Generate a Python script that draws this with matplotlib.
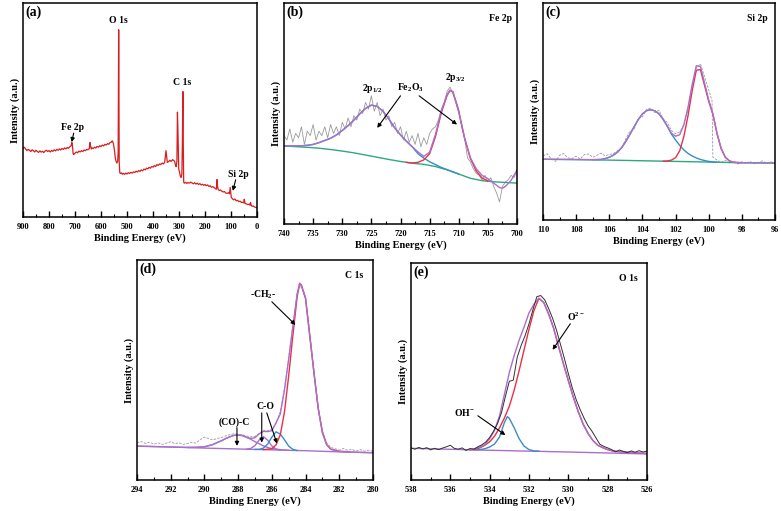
import matplotlib
matplotlib.use("Agg")
import matplotlib.pyplot as plt
from matplotlib.ticker import MultipleLocator

plt.rcParams['font.family'] = ['Liberation Serif', 'DejaVu Serif']
plt.rcParams['font.weight'] = 'bold'
plt.rcParams['mathtext.fontset'] = 'custom'
plt.rcParams['mathtext.rm'] = 'Liberation Serif:bold'
plt.rcParams['mathtext.it'] = 'Liberation Serif:bold'
plt.rcParams['mathtext.bf'] = 'Liberation Serif:bold'

# ---------------- (a) survey ----------------
be_a = [900, 895, 890, 885, 880, 875, 870, 865, 860, 855, 850, 845, 840, 835, 830, 825, 820, 815, 810, 805,
        800, 795, 790, 785, 780, 775, 770, 765, 760, 755, 750, 745, 740, 735, 730, 725, 720, 715, 712, 710,
        707, 705, 700, 695, 690, 685, 680, 675, 670, 665, 660, 655, 650, 645, 642, 640, 637, 635, 630, 625,
        620, 615, 610, 605, 600, 595, 590, 585, 580, 575, 570, 565, 560, 557, 555, 552, 548, 545, 542, 539,
        536, 534, 532, 531, 530, 528, 526, 522, 518, 514, 510, 505, 500, 495, 490, 485, 480, 475, 470, 465,
        460, 455, 450, 445, 440, 435, 430, 425, 420, 415, 410, 405, 400, 395, 390, 385, 380, 375, 370, 365,
        360, 355, 352, 350, 347, 345, 340, 335, 330, 325, 320, 317, 314, 311, 308, 306, 304, 301, 298, 295,
        292, 289, 287, 285, 284, 282, 280, 275, 270, 265, 260, 255, 250, 245, 240, 235, 230, 225, 220, 215,
        210, 205, 200, 195, 190, 185, 180, 175, 170, 165, 160, 156, 154, 152, 149, 145, 140, 135, 130, 125,
        120, 115, 110, 106, 103, 101, 99, 95, 90, 85, 80, 75, 70, 65, 60, 55, 51, 49, 46, 40,
        35, 30, 27, 25, 22, 18, 15, 10, 5, 0]
int_a = [32.1, 32.6, 31.8, 31.0, 31.6, 31.2, 30.6, 31.4, 31.0, 30.4, 31.2, 30.6, 30.2, 30.9, 30.3, 30.7, 30.1, 30.8, 31.2, 30.6,
         31.0, 30.4, 31.1, 30.7, 31.4, 30.9, 31.6, 31.2, 31.8, 31.3, 32.0, 31.6, 32.3, 31.8, 32.5, 32.1, 32.8, 33.3, 34.8, 33.5,
         29.5, 29.2, 29.8, 30.4, 30.0, 30.8, 30.4, 31.0, 30.6, 31.3, 31.0, 31.6, 31.4, 32.0, 34.8, 33.0, 31.8, 32.3, 32.0, 32.6,
         32.2, 33.0, 32.6, 33.3, 32.9, 33.6, 33.2, 34.0, 33.6, 34.3, 34.0, 34.8, 35.0, 35.6, 35.2, 34.0, 31.0, 27.5, 26.0, 25.2,
         26.0, 30.0, 87.5, 60.0, 26.0, 21.0, 20.3, 20.6, 20.0, 20.4, 19.9, 20.5, 20.1, 20.7, 20.3, 20.9, 20.5, 21.1, 20.8, 21.4,
         21.0, 21.7, 21.3, 22.0, 21.6, 22.4, 22.0, 22.8, 22.5, 23.2, 22.8, 23.6, 23.3, 24.0, 23.6, 24.5, 24.1, 24.8, 24.5, 25.2,
         24.8, 25.6, 29.0, 31.0, 27.5, 25.5, 25.9, 26.5, 26.0, 26.8, 26.4, 26.0, 24.5, 23.5, 26.0, 49.0, 40.0, 22.5, 21.0, 19.2,
         18.5, 20.0, 35.0, 58.6, 40.0, 16.5, 15.8, 16.2, 15.7, 16.1, 15.8, 16.3, 15.9, 15.5, 16.0, 15.4, 15.8, 15.2, 15.6, 15.0,
         15.3, 14.8, 15.2, 14.6, 15.0, 14.3, 14.6, 13.9, 14.2, 13.8, 13.2, 13.0, 17.5, 14.5, 12.8, 12.4, 12.6, 12.0, 11.7, 11.9,
         11.2, 11.0, 11.4, 10.8, 13.8, 11.5, 9.2, 8.6, 8.0, 8.4, 7.6, 7.8, 7.2, 7.4, 6.8, 6.9, 6.6, 8.3, 6.3, 6.1,
         5.8, 6.0, 5.5, 6.8, 5.3, 5.0, 5.2, 4.7, 4.5, 4.3]
ticks_a = [900, 800, 700, 600, 500, 400, 300, 200, 100, 0]

# ---------------- (b) Fe 2p ----------------
be_b_raw = [740 - 0.5 * i for i in range(81)]
raw_b = [40, 38, 43, 37, 41, 39, 44, 36, 42, 40,
         45, 38, 42, 40, 44, 39, 45, 41, 44, 40,
         46, 43, 48, 44, 49, 47, 52, 50, 55, 52,
         58, 51, 55, 49, 52, 47, 49, 44, 46, 41,
         44, 38, 42, 37, 40, 36, 41, 35, 39, 36,
         41, 43, 44, 47, 52, 55, 60, 62, 59, 56,
         52, 44, 39, 30, 28, 25, 23, 22, 20, 22,
         19, 21, 17, 14, 10, 17, 19, 20, 22, 21,
         24]
be_b_env = [740, 739, 738, 737, 736, 735, 734, 733, 732, 731, 730, 729, 728, 727, 726, 725, 724, 723, 722, 721,
            720, 719, 718, 717, 716, 715, 714, 713, 712, 711.5, 711, 710, 709, 708, 707, 706, 705, 704, 703,
            702.5, 702, 701, 700]
env_b = [35.3, 35.3, 35.3, 35.4, 35.6, 36.0, 36.8, 37.8, 38.8, 40.3, 42.3, 44.5, 47.0, 49.8, 52.3, 53.8, 53.2, 51.0, 47.5, 43.5,
         40.3, 37.5, 35.0, 32.6, 30.6, 32.5, 40.5, 51.0, 58.5, 60.6, 59.9, 51.0, 39.0, 30.0, 25.0, 22.0, 20.5, 18.5, 16.5,
         16.2, 17.0, 19.8, 24.4]
be_b_p1 = [740, 739, 738, 737, 736, 735, 734, 733, 732, 731, 730, 729, 728, 727, 726, 725, 724, 723, 722, 721,
           720, 719, 718, 717, 716, 715, 714, 713, 712, 711, 710]
p1_b = [35.3, 35.3, 35.3, 35.4, 35.6, 36.0, 36.8, 37.8, 38.8, 40.3, 42.3, 44.5, 47.0, 49.8, 52.3, 53.8, 53.2, 51.0, 47.5, 43.5,
        40.3, 37.5, 35.0, 31.8, 29.8, 28.2, 26.9, 25.6, 24.6, 23.6, 22.6]
be_b_p2 = [719, 718, 717, 716, 715, 714, 713, 712, 711.5, 711, 710, 709, 708, 707, 706, 705]
p2_b = [27.9, 27.6, 27.9, 29.0, 31.8, 39.5, 50.3, 58.2, 60.4, 59.7, 50.8, 38.8, 29.6, 24.0, 20.8, 19.4]
be_b_bg = [740, 738, 736, 734, 732, 730, 728, 726, 724, 722, 720, 718, 716, 714, 712, 710, 708, 706, 704, 702, 700]
bg_b = [35.3, 35.0, 34.7, 34.3, 33.7, 33.0, 32.2, 31.2, 30.2, 29.2, 28.3, 27.5, 27.0, 26.0, 24.5, 22.6, 20.7, 19.6, 19.1, 18.8, 18.5]
ticks_b = [740, 735, 730, 725, 720, 715, 710, 705, 700]

# ---------------- (c) Si 2p ----------------
be_c_raw = [110, 109.75, 109.5, 109.25, 109, 108.75, 108.5, 108.25, 108, 107.75, 107.5, 107.25, 107, 106.75, 106.5,
            106.25, 106, 105.75, 105.5, 105.25, 105, 104.75, 104.5, 104.25, 104, 103.75, 103.5, 103.25, 103, 102.75,
            102.5, 102.25, 102, 101.75, 101.5, 101.25, 101, 100.75, 100.5, 100.25, 100, 99.8, 99.75, 99.5, 99.25,
            99, 98.75, 98.5, 98.25, 98, 97.75, 97.5, 97.25, 97, 96.75, 96.5, 96.25, 96]
raw_c = [29.5, 30.5, 28.2, 27.0, 29.8, 30.6, 28.6, 28.3, 29.4, 28.1, 30.2, 30.4, 28.9, 29.8, 30.8,
         29.5, 30.2, 30.6, 32.0, 33.0, 37.5, 41.0, 42.0, 46.8, 47.5, 51.0, 51.6, 49.5, 50.6, 46.5,
         45.0, 41.2, 39.8, 40.6, 43.5, 51.0, 62.0, 70.0, 72.0, 66.0, 60.0, 55.0, 29.0, 27.6, 26.5,
         27.6, 26.2, 27.2, 25.8, 26.9, 26.0, 27.0, 25.9, 26.5, 27.3, 26.0, 26.8, 26.3]
be_c_env = [110, 109, 108, 107, 106.5, 106.25, 106, 105.75, 105.5, 105.25, 105, 104.75, 104.5, 104.25, 104, 103.75,
            103.5, 103.25, 103, 102.75, 102.5, 102.25, 102, 101.75, 101.5, 101.25, 101, 100.75, 100.5, 100.25, 100,
            99.75, 99.5, 99.25, 99, 98.75, 98.5, 98, 97, 96]
env_c = [28.0, 27.95, 27.9, 27.8, 27.9, 28.3, 28.9, 29.9, 31.3, 33.4, 36.2, 39.5, 43.0, 46.3, 48.9, 50.4,
         50.8, 50.3, 48.9, 46.4, 43.2, 40.0, 38.6, 39.3, 43.9, 51.9, 62.3, 71.1, 70.7, 63.1, 55.3,
         49.0, 40.0, 33.0, 29.0, 27.3, 26.6, 26.4, 26.3, 26.2]
be_c_p1 = [107, 106.5, 106.25, 106, 105.75, 105.5, 105.25, 105, 104.75, 104.5, 104.25, 104, 103.75, 103.5, 103.25,
           103, 102.75, 102.5, 102.25, 102, 101.75, 101.5, 101.25, 101, 100.75, 100.5, 100.25, 100, 99.5]
p1_c = [27.8, 27.9, 28.3, 28.9, 29.9, 31.3, 33.4, 36.2, 39.5, 43.0, 46.3, 48.9, 50.4, 50.8, 50.3,
        48.9, 46.4, 43.2, 39.6, 36.9, 34.4, 32.3, 30.7, 29.5, 28.6, 27.9, 27.4, 27.0, 26.6]
be_c_p2 = [102.75, 102.5, 102.25, 102, 101.75, 101.5, 101.25, 101, 100.75, 100.5, 100.25, 100, 99.75, 99.5, 99.25,
           99, 98.75, 98.5, 98]
p2_c = [27.1, 27.2, 27.6, 28.7, 31.9, 38.5, 48.0, 59.5, 69.0, 69.3, 62.0, 54.7, 48.8, 39.8, 32.9,
        28.9, 27.2, 26.5, 26.4]
be_c_bg = [110, 108, 106, 104, 102, 100, 98, 96]
bg_c = [28.0, 27.8, 27.6, 27.3, 27.0, 26.7, 26.4, 26.2]
ticks_c = [110, 108, 106, 104, 102, 100, 98, 96]

# ---------------- (d) C 1s ----------------
be_d_raw = [294 - 0.25 * i for i in range(57)]
raw_d = [16.8, 17.5, 16.6, 17.2, 16.3, 16.9, 16.2, 16.8, 17.4, 16.5,
         16.9, 16.2, 16.6, 17.1, 16.8, 18.4, 19.5, 18.8, 18.2, 18.9,
         19.3, 20.0, 20.6, 21.0, 20.8, 20.6, 20.0, 19.6, 19.8, 21.2,
         22.6, 22.4, 23.0, 26.0, 31.0, 41.5, 55.5, 70.5, 85.0, 89.0,
         83.0, 66.5, 49.5, 33.0, 22.5, 16.8, 14.8, 14.2, 13.6, 14.3,
         13.5, 13.9, 13.2, 13.8, 13.1, 13.6, 13.0]
be_d_env = [294, 292, 291, 290.5, 290, 289.75, 289.5, 289.25, 289, 288.75, 288.5, 288.25, 288, 287.75, 287.5, 287.25,
            287, 286.75, 286.5, 286.25, 286, 285.75, 285.5, 285.25, 285, 284.75, 284.5, 284.35, 284.25, 284, 283.75,
            283.5, 283.25, 283, 282.75, 282.5, 282, 281, 280]
env_d = [15.4, 15.0, 14.8, 14.85, 15.1, 15.6, 16.1, 17.0, 17.8, 18.8, 19.6, 20.3, 20.4, 20.2, 19.4, 18.9,
         19.2, 21.0, 22.1, 22.0, 22.4, 26.0, 30.0, 41.0, 55.0, 70.0, 84.5, 89.4, 88.5, 82.5, 65.5,
         48.6, 32.5, 21.5, 16.1, 14.0, 13.0, 12.6, 12.4]
be_d_ch2 = [286.5, 286, 285.75, 285.5, 285.25, 285, 284.75, 284.5, 284.35, 284.25, 284, 283.75, 283.5, 283.25, 283,
            282.75, 282.5, 282, 281.5]
ch2_d = [13.8, 14.2, 16.0, 20.5, 31.0, 47.5, 66.0, 83.3, 89.4, 88.5, 82.5, 65.5, 48.6, 32.5, 21.5,
         16.1, 14.0, 13.0, 12.9]
be_d_co = [287, 286.75, 286.5, 286.25, 286, 285.75, 285.5, 285.25, 285, 284.75, 284.5]
co_d = [13.9, 13.95, 14.5, 16.3, 19.5, 21.9, 20.9, 18.3, 15.4, 13.9, 13.4]
be_d_co2 = [287.5, 287.25, 287, 286.75, 286.5, 286.25, 286, 285.75, 285.5]
co2_d = [14.01, 14.35, 15.65, 18.25, 19.7, 18.1, 15.45, 14.0, 13.58]
be_d_coc = [291, 290.5, 290, 289.75, 289.5, 289.25, 289, 288.75, 288.5, 288.25, 288, 287.75, 287.5, 287.25, 287,
            286.75, 286.5, 286.25, 286, 285.5, 285]
coc_d = [14.8, 14.85, 15.1, 15.6, 16.1, 17.0, 17.8, 18.8, 19.6, 20.3, 20.4, 20.2, 19.4, 18.5, 17.4,
         16.5, 15.5, 14.8, 14.3, 13.8, 13.47]
be_d_bg = [294, 292, 290, 288, 286, 284, 282, 280]
bg_d = [15.4, 15.0, 14.5, 14.1, 13.7, 13.3, 12.8, 12.4]
ticks_d = [294, 292, 290, 288, 286, 284, 282, 280]

# ---------------- (e) O 1s ----------------
be_e_raw = [538 - 0.2 * i for i in range(61)]
raw_e = [14.8, 14.2, 15.0, 14.3, 14.9, 13.9, 14.6, 14.0, 14.7, 15.3,
         16.0, 14.6, 14.2, 14.8, 13.6, 14.5, 14.2, 15.3, 16.2, 17.5,
         19.6, 22.5, 26.0, 31.0, 38.5, 45.5, 46.0, 56.5, 62.0, 66.5,
         72.0, 78.5, 84.5, 85.0, 83.0, 79.0, 74.5, 69.0, 62.5, 56.0,
         49.0, 42.5, 37.0, 32.5, 28.5, 25.0, 22.5, 19.5, 16.5, 15.5,
         14.8, 14.0, 13.0, 13.8, 13.2, 12.6, 13.4, 12.8, 13.5, 12.9,
         13.3]
be_e_o2 = [535, 534.75, 534.5, 534.25, 534, 533.75, 533.5, 533.25, 533, 532.75, 532.5, 532.25, 532, 531.75, 531.5,
           531.25, 531, 530.75, 530.5, 530.25, 530, 529.75, 529.5, 529.25, 529, 528.75, 528.5, 528.25, 528, 527.75,
           527.5, 527, 526.5, 526]
o2_e = [13.9, 14.1, 14.8, 16.0, 17.6, 20.2, 24.0, 28.6, 34.0, 41.5, 50.5, 60.0, 69.5, 78.0, 83.7,
        81.8, 76.5, 70.0, 61.7, 53.6, 45.8, 38.3, 31.6, 25.8, 21.5, 18.2, 16.0, 14.9, 14.0, 13.4,
        13.1, 12.8, 12.5, 12.2]
be_e_env = [535, 534.75, 534.5, 534.25, 534, 533.75, 533.5, 533.25, 533, 532.75, 532.5, 532.25, 532, 531.75, 531.5,
            531.25, 531, 530.75, 530.5, 530.25, 530, 529.75, 529.5, 529.25, 529, 528.75, 528.5, 528.25, 528, 527.75,
            527.5, 527, 526.5, 526]
env_e = [14.0, 14.4, 15.2, 16.3, 19.0, 23.0, 29.5, 39.5, 49.5, 57.5, 64.5, 70.5, 77.0, 81.0, 83.8,
         81.8, 76.5, 70.0, 61.7, 53.6, 45.8, 38.3, 31.6, 25.8, 21.5, 18.2, 16.0, 14.9, 14.0, 13.4,
         13.1, 12.8, 12.5, 12.2]
be_e_oh = [534.75, 534.5, 534.25, 534, 533.75, 533.5, 533.25, 533.1, 533, 532.75, 532.5, 532.25, 532, 531.75, 531.5]
oh_e = [13.9, 14.0, 14.4, 15.2, 16.6, 19.8, 26.5, 29.2, 28.4, 24.0, 19.0, 15.6, 14.0, 13.4, 13.3]
be_e_bg = [538, 534, 530, 526]
bg_e = [14.6, 13.7, 12.9, 12.0]
ticks_e = [538, 536, 534, 532, 530, 528, 526]

C_ENV = '#a870cc'
C_RED = '#e8304a'
C_BLUE = '#3a8cc8'
C_GREEN = '#2ea882'
C_GRAY = '#9a9a9a'

fig = plt.figure(figsize=(7.81, 5.11), dpi=100)

def frame(rect, xlim, ticks, minor):
    ax = fig.add_axes(rect)
    ax.set_xlim(*xlim)
    ax.set_ylim(0, 100)
    ax.set_xticks(ticks)
    ax.set_xticklabels([str(t) for t in ticks])
    ax.xaxis.set_minor_locator(MultipleLocator(minor))
    ax.set_yticks([])
    ax.tick_params(axis='x', which='major', direction='in', length=4, width=1.0,
                   labelsize=6, pad=4, top=False)
    ax.tick_params(axis='x', which='minor', direction='in', length=2, width=0.8, top=False)
    for lbl in ax.get_xticklabels():
        lbl.set_fontweight('bold')
    for s in ax.spines.values():
        s.set_linewidth(1.1)
    ax.set_xlabel('Binding Energy (eV)', fontsize=7.5, fontweight='bold', labelpad=2)
    ax.set_ylabel('Intensity (a.u.)', fontsize=7.5, fontweight='bold', labelpad=2)
    return ax

def arrow(ax, xy, xytext):
    ax.annotate('', xy=xy, xytext=xytext,
                arrowprops=dict(arrowstyle='-|>', color='black', lw=0.8, mutation_scale=6,
                                shrinkA=0, shrinkB=0))

# (a)
axa = frame([23/781, 1-217/511, 234/781, 214/511], (900, 0), ticks_a, 50)
axa.plot(be_a, int_a, color='#d81e1e', lw=0.9)
axa.text(0.01, 0.99, '(a)', transform=axa.transAxes, ha='left', va='top', fontsize=10, fontweight='bold')
axa.text(535, 89.5, 'O 1s', ha='center', va='bottom', fontsize=7, fontweight='bold')
axa.text(288, 63, 'C 1s', ha='center', va='center', fontsize=7, fontweight='bold')
axa.text(708, 41.6, 'Fe 2p', ha='center', va='center', fontsize=7, fontweight='bold')
axa.text(73, 20, 'Si 2p', ha='center', va='center', fontsize=7, fontweight='bold')
arrow(axa, (713, 35.0), (705, 39.2))
arrow(axa, (93, 12.2), (82, 17.4))

# (b)
axb = frame([284/781, 1-224/511, 233/781, 221/511], (740, 700), ticks_b, 2.5)
axb.plot(be_b_raw, raw_b, color=C_GRAY, lw=0.6)
axb.plot(be_b_bg, bg_b, color=C_GREEN, lw=1.0)
axb.plot(be_b_p1, p1_b, color=C_BLUE, lw=1.0)
axb.plot(be_b_p2, p2_b, color=C_RED, lw=1.0)
axb.plot(be_b_env, env_b, color=C_ENV, lw=1.0)
axb.text(0.01, 0.99, '(b)', transform=axb.transAxes, ha='left', va='top', fontsize=10, fontweight='bold')
axb.text(0.98, 0.95, 'Fe 2p', transform=axb.transAxes, ha='right', va='top', fontsize=7, fontweight='bold')
axb.text(724.9, 61.5, '2p$_{1/2}$', ha='center', va='center', fontsize=7)
axb.text(718.3, 61.5, 'Fe$_2$O$_3$', ha='center', va='center', fontsize=7)
axb.text(710.6, 66.5, '2p$_{3/2}$', ha='center', va='center', fontsize=7)
arrow(axb, (724.0, 43.5), (720.0, 58.0))
arrow(axb, (710.3, 45.0), (716.8, 58.0))

# (c)
axc = frame([543/781, 1-220/511, 232/781, 217/511], (110, 96), ticks_c, 1)
axc.plot(be_c_raw, raw_c, color=C_GRAY, lw=0.6, ls=(0, (3, 1.5)))
axc.plot(be_c_bg, bg_c, color=C_GREEN, lw=1.0)
axc.plot(be_c_p1, p1_c, color=C_BLUE, lw=1.0)
axc.plot(be_c_p2, p2_c, color=C_RED, lw=1.0)
axc.plot(be_c_env, env_c, color=C_ENV, lw=1.0)
axc.text(0.01, 0.99, '(c)', transform=axc.transAxes, ha='left', va='top', fontsize=10, fontweight='bold')
axc.text(0.97, 0.95, 'Si 2p', transform=axc.transAxes, ha='right', va='top', fontsize=7, fontweight='bold')

# (d)
axd = frame([137/781, 1-480/511, 236/781, 220/511], (294, 280), ticks_d, 1)
axd.plot(be_d_raw, raw_d, color=C_GRAY, lw=0.6, ls=(0, (3, 1.5)))
axd.plot(be_d_bg, bg_d, color=C_ENV, lw=1.0)
axd.plot(be_d_coc, coc_d, color=C_ENV, lw=1.0)
axd.plot(be_d_co2, co2_d, color=C_ENV, lw=1.0)
axd.plot(be_d_co, co_d, color=C_BLUE, lw=1.0)
axd.plot(be_d_ch2, ch2_d, color=C_RED, lw=1.0)
axd.plot(be_d_env, env_d, color=C_ENV, lw=1.0)
axd.text(0.01, 0.99, '(d)', transform=axd.transAxes, ha='left', va='top', fontsize=10, fontweight='bold')
axd.text(0.96, 0.95, 'C 1s', transform=axd.transAxes, ha='right', va='top', fontsize=7, fontweight='bold')
axd.text(286.5, 84, '-CH$_2$-', ha='center', va='center', fontsize=7)
axd.text(286.4, 33.2, 'C-O', ha='center', va='center', fontsize=7)
axd.text(288.2, 26.4, '(CO)-C', ha='center', va='center', fontsize=7)
arrow(axd, (284.6, 70.5), (286.0, 81.0))
arrow(axd, (286.6, 17.0), (286.6, 30.5))
arrow(axd, (285.7, 16.6), (286.3, 30.5))
arrow(axd, (288.07, 15.5), (288.07, 23.8))

# (e)
axe = frame([411/781, 1-480/511, 236/781, 217/511], (538, 526), ticks_e, 1)
axe.plot(be_e_bg, bg_e, color=C_ENV, lw=1.0)
axe.plot(be_e_oh, oh_e, color=C_BLUE, lw=1.0)
axe.plot(be_e_o2, o2_e, color=C_RED, lw=1.0)
axe.plot(be_e_env, env_e, color=C_ENV, lw=1.0)
axe.plot(be_e_raw, raw_e, color='#303030', lw=0.7)
axe.text(0.01, 0.99, '(e)', transform=axe.transAxes, ha='left', va='top', fontsize=10, fontweight='bold')
axe.text(0.96, 0.95, 'O 1s', transform=axe.transAxes, ha='right', va='top', fontsize=7, fontweight='bold')
axe.text(529.6, 75, 'O$^{2-}$', ha='center', va='center', fontsize=7)
axe.text(535.3, 31, 'OH$^{-}$', ha='center', va='center', fontsize=7)
arrow(axe, (530.8, 60.0), (529.9, 72.0))
arrow(axe, (533.2, 20.7), (534.6, 29.6))

fig.savefig('out.png', dpi=100)
